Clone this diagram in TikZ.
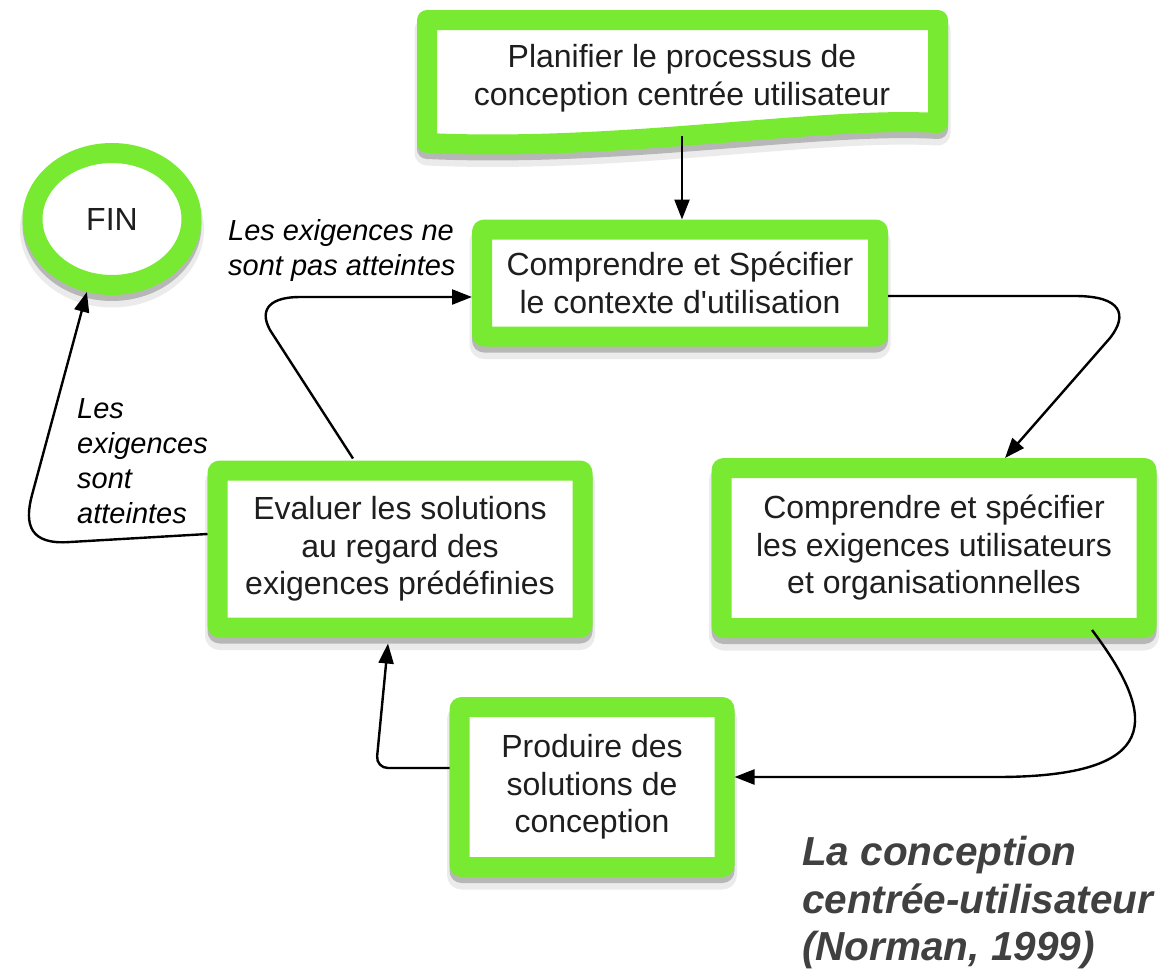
\documentclass[tikz,border=0pt]{standalone}
\usepackage{fontspec}
\setmainfont{Liberation Sans}[Ligatures=TeXOff]
\usetikzlibrary{shapes.geometric,arrows.meta}
\definecolor{lime}{RGB}{120,234,50}
\definecolor{titlegray}{RGB}{64,64,64}
\definecolor{boxtext}{RGB}{30,30,30}
\begin{document}
\begin{tikzpicture}[x=1pt,y=-1pt,
  softshadow/.style={
    preaction={draw=black, draw opacity=0.08, fill=none, line width=25pt, line join=round, transform canvas={yshift=-10pt}},
    preaction={draw=black, draw opacity=0.22, fill=none, line width=20pt, line join=round, transform canvas={yshift=-6pt}}},
  greenframe/.style={draw=lime, line width=20pt, line join=round, fill=white, softshadow},
  box/.style={rectangle, greenframe, rounded corners=2pt, align=center, inner sep=0pt,
    text=boxtext, font=\fontsize{32}{37.5}\selectfont},
  endring/.style={ellipse, greenframe, inner sep=0pt, text=boxtext, font=\fontsize{32}{37.5}\selectfont},
  conn/.style={-{Triangle[length=20pt,width=15pt]}, line width=2.4pt, black},
  note/.style={align=left, inner sep=0pt, font=\itshape\fontsize{29}{35}\selectfont},
  title/.style={align=left, inner sep=0pt, text=titlegray, font=\bfseries\itshape\fontsize{40.5}{47.5}\selectfont}
]
\useasboundingbox (0,0) rectangle (1175,972);

% top box with wavy bottom edge
\path[greenframe] (427,20) -- (938,20) -- (938,123)
   .. controls (820,116) and (620,152) .. (427,143) -- cycle;
\node[rectangle, inner sep=0pt, outer sep=0pt, minimum width=511pt, minimum height=116pt,
      align=center, text=boxtext, font=\fontsize{32}{38}\selectfont] (plan) at (682,78)
  {Planifier le processus de\\conception centrée utilisateur};

\node[box, minimum width=396pt, minimum height=107pt] (ctx) at (680,283)
  {Comprendre et Spécifier\\le contexte d'utilisation};
\node[box, minimum width=425pt, minimum height=160pt] (req) at (934,548)
  {Comprendre et spécifier\\les exigences utilisateurs\\et organisationnelles};
\node[box, minimum width=365pt, minimum height=157pt] (eval) at (400,549)
  {Evaluer les solutions\\au regard des\\exigences prédéfinies};
\node[box, minimum width=265pt, minimum height=160pt] (prod) at (592,787)
  {Produire des\\solutions de\\conception};
\node[endring, minimum width=159pt, minimum height=132pt] (fin) at (112,219) {FIN};

% labels
\node[note, anchor=west] (lblno) at (228,250) {Les exigences ne\\sont pas atteintes};
\node[note, anchor=west] (lblyes) at (77,461) {Les\\exigences\\sont\\atteintes};
\node[title, anchor=west] (ttl) at (802,903) {La conception\\centrée-utilisateur\\(Norman, 1999)};

% connectors
\draw[conn] (plan.south) -- (plan.south |- ctx.north);
\draw[conn] ([yshift=-13pt]ctx.east) -- (1075,296)
   .. controls (1122,296) and (1128,315) .. (1110,338) -- ([xshift=71pt]req.north);
\draw[conn] ([xshift=158pt,yshift=8pt]req.south)
   .. controls (1160,720) and (1160,776) .. (1000,777) -- ([yshift=10pt]prod.east);
\draw[conn, rounded corners=12pt] ([yshift=19pt]prod.west) -- (376,768) -- ([xshift=-12pt,yshift=-6pt]eval.south);
\draw[conn] ([xshift=-47pt,yshift=2pt]eval.north) -- (270,330)
   .. controls (258,308) and (272,297) .. (300,297) -- ([yshift=-14pt]ctx.west);
\draw[conn] ([yshift=15pt]eval.west) -- (70,542)
   .. controls (30,545) and (24,525) .. (32,495) -- (fin.251);
\end{tikzpicture}
\end{document}
